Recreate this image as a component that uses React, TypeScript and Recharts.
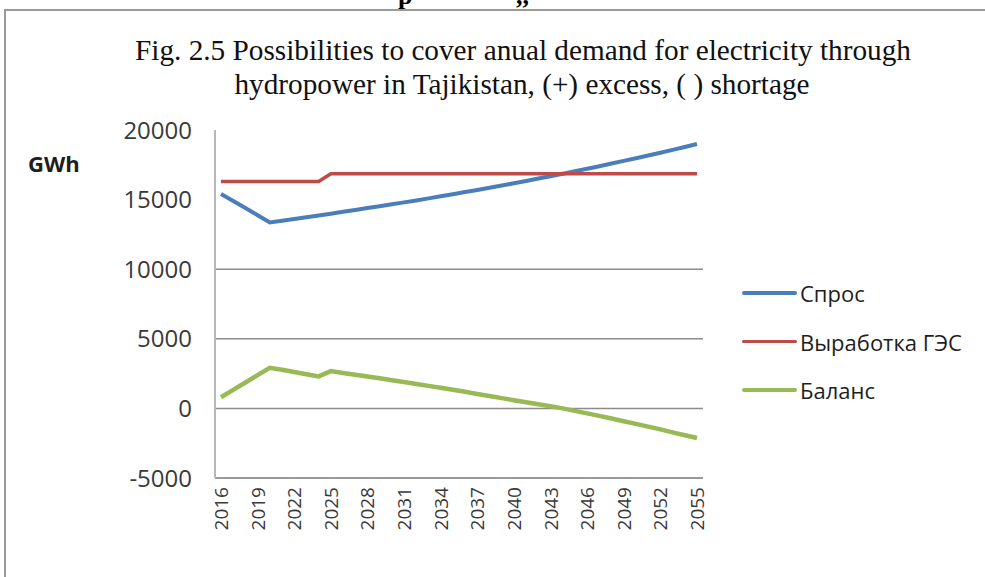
import React from 'react';
import { LineChart, Line, XAxis, YAxis, ReferenceLine } from 'recharts';

const years = [
  '2016', '2017', '2018', '2019', '2020', '2021', '2022', '2023', '2024', '2025',
  '2026', '2027', '2028', '2029', '2030', '2031', '2032', '2033', '2034', '2035',
  '2036', '2037', '2038', '2039', '2040', '2041', '2042', '2043', '2044', '2045',
  '2046', '2047', '2048', '2049', '2050', '2051', '2052', '2053', '2054', '2055',
];

const demand = [
  15400, 14900, 14400, 13880, 13360, 13480, 13600, 13730, 13860, 13990,
  14120, 14250, 14390, 14520, 14660, 14800, 14940, 15090, 15240, 15390,
  15540, 15690, 15850, 16010, 16170, 16340, 16510, 16680, 16860, 17040,
  17220, 17400, 17590, 17780, 17970, 18170, 18370, 18570, 18780, 18990,
];

const hydro = [
  16300, 16300, 16300, 16300, 16300, 16300, 16300, 16300, 16300, 16860,
  16860, 16860, 16860, 16860, 16860, 16860, 16860, 16860, 16860, 16860,
  16860, 16860, 16860, 16860, 16860, 16860, 16860, 16860, 16860, 16860,
  16860, 16860, 16860, 16860, 16860, 16860, 16860, 16860, 16860, 16860,
];

const balance = [
  800, 1330, 1860, 2390, 2920, 2770, 2610, 2450, 2300, 2680,
  2550, 2420, 2290, 2160, 2020, 1890, 1760, 1620, 1490, 1340,
  1190, 1040, 890, 740, 590, 440, 300, 150, 0, -180,
  -360, -540, -730, -920, -1110, -1310, -1510, -1720, -1930, -2130,
];

const seriesNames = ['Спрос', 'Выработка ГЭС', 'Баланс'];
const seriesColors = ['#4A7EBB', '#BE4B48', '#98B954'];
const seriesWidths = [4, 3.5, 4.5];
const seriesKeys = ['demand', 'hydro', 'balance'];
const yTicks = [-5000, 0, 5000, 10000, 15000, 20000];
const gridValues = [0, 5000, 10000];
const titleLines = [
  'Fig. 2.5 Possibilities to cover anual demand for electricity  through',
  'hydropower in Tajikistan, (+) excess, ( ) shortage',
];
const unitLabel = 'GWh';

const data = years.map((year, i) => ({
  year,
  demand: demand[i],
  hydro: hydro[i],
  balance: balance[i],
}));

const SANS = "'Open Sans', 'Noto Sans', sans-serif";

const YearTick = (props: any) => {
  const { x, y, payload } = props;
  return (
    <text
      x={x}
      y={y}
      transform={`rotate(-90, ${x}, ${y})`}
      textAnchor="end"
      dominantBaseline="central"
      fontSize={19}
      fill="#3a3a3a"
      fontFamily={SANS}
    >
      {payload.value}
    </text>
  );
};

export default function App() {
  return (
    <div
      style={{
        position: 'absolute',
        left: 0,
        top: 0,
        width: 985,
        height: 577,
        background: '#fff',
        overflow: 'hidden',
      }}
    >
      <div
        style={{
          position: 'absolute',
          left: 4,
          top: 9,
          width: 1100,
          height: 700,
          border: '2px solid #9a9a9a',
        }}
      />
      <svg
        width={985}
        height={110}
        style={{ position: 'absolute', left: 0, top: 0 }}
      >
        <text x={398} y={4} fontFamily="'Liberation Serif', serif" fontWeight="bold" fontSize={26} fill="#000">p</text>
        <text x={516} y={4} fontFamily="'Liberation Serif', serif" fontWeight="bold" fontSize={26} fill="#000">,,</text>
        <text
          x={523}
          y={60}
          textAnchor="middle"
          textLength={776}
          lengthAdjust="spacingAndGlyphs"
          fontFamily="'Liberation Serif', serif"
          fontSize={30}
          fill="#111"
        >
          {titleLines[0]}
        </text>
        <text
          x={522}
          y={94}
          textAnchor="middle"
          textLength={575}
          lengthAdjust="spacingAndGlyphs"
          fontFamily="'Liberation Serif', serif"
          fontSize={30}
          fill="#111"
        >
          {titleLines[1]}
        </text>
      </svg>
      <div
        style={{
          position: 'absolute',
          left: 28,
          top: 148,
          fontFamily: SANS,
          fontWeight: 700,
          fontSize: 22,
          color: '#1e1e1e',
          lineHeight: '30px',
        }}
      >
        {unitLabel}
      </div>
      <div style={{ position: 'absolute', left: 0, top: 0 }}>
        <LineChart
          width={985}
          height={577}
          data={data}
          margin={{ top: 130, right: 282, bottom: 39, left: 115 }}
        >
          {gridValues.map((v) => (
            <ReferenceLine key={v} y={v} stroke="#8c8c8c" strokeWidth={1.5} />
          ))}
          <XAxis
            dataKey="year"
            interval={2}
            height={60}
            tickLine={false}
            tickMargin={3}
            axisLine={{ stroke: '#999999', strokeWidth: 2 }}
            padding={{ left: 6, right: 6 }}
            tick={<YearTick />}
          />
          <YAxis
            width={100}
            domain={[-5000, 20000]}
            ticks={yTicks}
            interval={0}
            tickLine={false}
            tickMargin={17}
            axisLine={{ stroke: '#b8b8b8', strokeWidth: 2 }}
            tick={{ fontSize: 24, fill: '#3a3a3a', fontFamily: SANS }}
          />
          {seriesKeys.map((k, i) => (
            <Line
              key={k}
              type="linear"
              dataKey={k}
              name={seriesNames[i]}
              stroke={seriesColors[i]}
              strokeWidth={seriesWidths[i]}
              dot={false}
              isAnimationActive={false}
            />
          ))}
        </LineChart>
      </div>
      <div style={{ position: 'absolute', left: 742, top: 269, width: 240 }}>
        {seriesNames.map((name, i) => (
          <div
            key={name}
            style={{ height: 48.5, display: 'flex', alignItems: 'center' }}
          >
            <span
              style={{
                display: 'inline-block',
                width: 55,
                height: i === 1 ? 3 : 4,
                background: seriesColors[i],
                borderRadius: 2,
              }}
            />
            <span
              style={{
                marginLeft: 3,
                fontFamily: SANS,
                fontSize: 22,
                color: '#1e1e1e',
                lineHeight: '24px',
              }}
            >
              {name}
            </span>
          </div>
        ))}
      </div>
    </div>
  );
}
